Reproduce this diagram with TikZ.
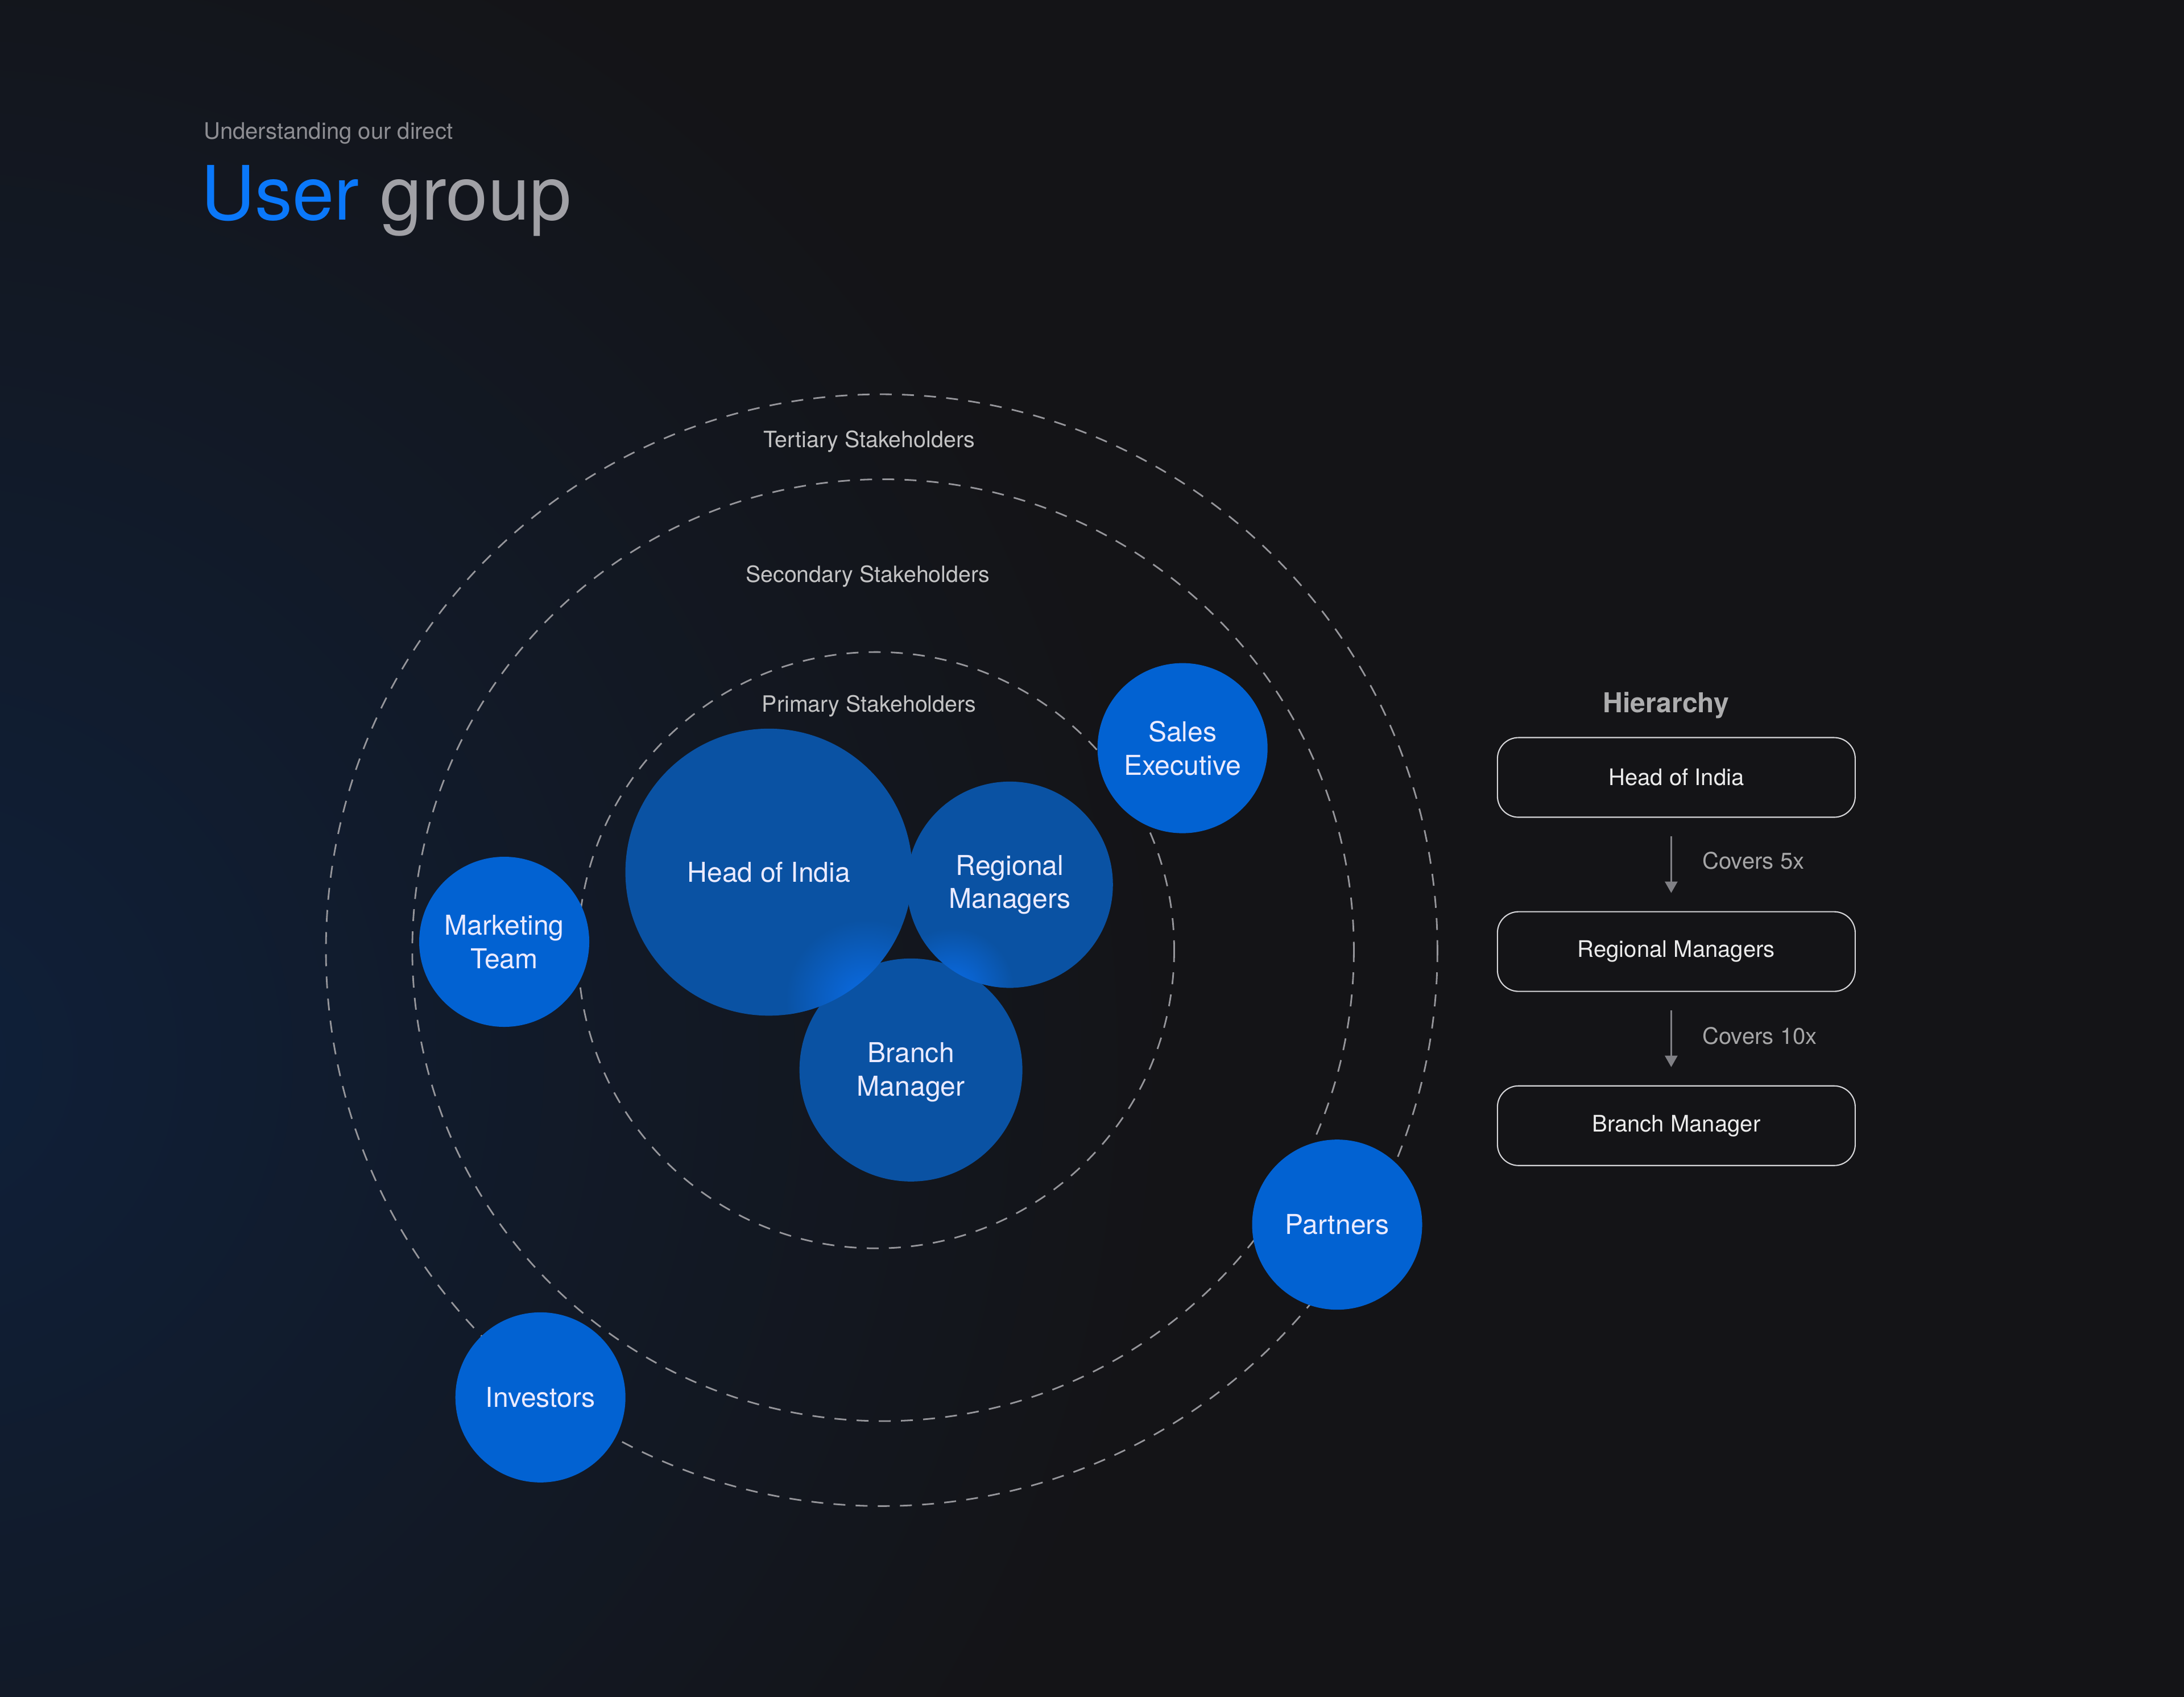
\documentclass[tikz,border=0pt]{standalone}
\usepackage{fontspec}
\setmainfont{TeX Gyre Heros}
\usetikzlibrary{positioning,arrows.meta}
\definecolor{bg}{HTML}{141417}
\definecolor{glow}{HTML}{0F203A}
\definecolor{inner}{HTML}{0A52A3}
\definecolor{shine}{HTML}{0A6CE6}
\definecolor{outer}{HTML}{0262D2}
\definecolor{userblue}{HTML}{0A78FA}
\definecolor{groupgray}{HTML}{A1A1A6}
\definecolor{subgray}{HTML}{8E8E93}
\definecolor{ringgray}{HTML}{96969B}
\definecolor{boxline}{HTML}{D6D6D9}
\definecolor{arrowgray}{HTML}{808085}
\tikzset{
  bubble/.style={circle, inner sep=0pt, text=white!92!blue, align=center,
    font=\fontsize{13.7}{16.7}\selectfont},
  ring/.style={draw=ringgray, line width=0.8pt, dash pattern=on 0.21cm off 0.18cm},
  ringlabel/.style={anchor=base, inner sep=0pt, text=white!75!bg,
    font=\fontsize{11.2}{13}\selectfont},
  levelbox/.style={draw=boxline, line width=0.6pt, rounded corners=0.37cm,
    minimum width=6.29cm, minimum height=1.4cm, text=white!92!bg,
    font=\fontsize{11.4}{13}\selectfont},
  covers/.style={text=white!62!bg, font=\fontsize{11.4}{13}\selectfont}
}
\begin{document}
\begin{tikzpicture}[x=0.0244898cm, y=-0.0244898cm]
\useasboundingbox (0,0) rectangle (1568,1218);
\fill[bg] (0,0) rectangle (1568,1218);
\begin{scope}
\clip (0,0) rectangle (1568,1218);
\shade[inner color=glow, outer color=bg] (-60,760) circle (900);
\end{scope}

% heading
\node[anchor=base west, inner sep=0pt, text=subgray, font=\fontsize{11.4}{13}\selectfont]
  (subtitle) at (146,100) {Understanding our direct};
\node[anchor=base west, inner sep=0pt, font=\fontsize{37.5}{40}\selectfont]
  (title) at (144,158) {\textcolor{userblue}{User} \textcolor{groupgray}{group}};

% stakeholder rings
\draw[ring] (633,682) circle (399);
\draw[ring] (634,682) circle (338);
\draw[ring] (629,682) circle (214);
\node[ringlabel] (tertiary) at (624,321) {Tertiary Stakeholders};
\node[ringlabel] (secondary) at (623,418) {Secondary Stakeholders};
\node[ringlabel] (primary) at (624,511) {Primary Stakeholders};

% primary bubbles
\node[bubble, fill=inner, minimum size=3.92cm] (branch) at (654,768) {};
\node[bubble, fill=inner, minimum size=3.625cm] (regional) at (725,635) {};
\begin{scope}
\clip (regional.center) circle (74);
\shade[inner color=shine, outer color=inner] (684,710) circle (44);
\end{scope}
\node[bubble, fill=inner, minimum size=5.045cm] (head) at (552,626) {};
\begin{scope}
\clip (head.center) circle (103);
\shade[inner color=shine, outer color=inner] (622,718) circle (58);
\end{scope}
\node[bubble] (headtext) at (head) {Head of India};
\node[bubble] (regionaltext) at (regional) {Regional\\Managers};
\node[bubble] (branchtext) at ([yshift=-0.04cm]branch.center) {Branch\\Manager};

% other bubbles
\node[bubble, fill=outer, minimum size=2.99cm] (sales) at (849,537) {Sales\\Executive};
\node[bubble, fill=outer, minimum size=2.99cm] (marketing) at (362,676) {Marketing\\Team};
\node[bubble, fill=outer, minimum size=2.99cm] (investors) at (388,1003) {Investors};
\node[bubble, fill=outer, minimum size=2.99cm] (partners) at (960,879) {Partners};

% hierarchy
\node[levelbox] (level1) at (1203.5,558) {Head of India};
\node[levelbox, below=1.64cm of level1] (level2) {Regional Managers};
\node[levelbox, below=1.64cm of level2] (level3) {Branch Manager};
\node[above=0.2cm of level1, xshift=-0.18cm, text=white!65!bg,
  font=\fontsize{13.7}{16}\selectfont\bfseries] (hierarchy) {Hierarchy};
\draw[-{Triangle[length=0.2cm, width=0.22cm]}, arrowgray, line width=0.8pt,
  shorten <=0.32cm, shorten >=0.32cm]
  ([xshift=-0.09cm]level1.south) -- ([xshift=-0.09cm]level2.north)
  node[midway, right=0.42cm, yshift=0.07cm, covers] (cover5) {Covers 5x};
\draw[-{Triangle[length=0.2cm, width=0.22cm]}, arrowgray, line width=0.8pt,
  shorten <=0.32cm, shorten >=0.32cm]
  ([xshift=-0.09cm]level2.south) -- ([xshift=-0.09cm]level3.north)
  node[midway, right=0.42cm, yshift=0.05cm, covers] (cover10) {Covers 10x};
\end{tikzpicture}
\end{document}
